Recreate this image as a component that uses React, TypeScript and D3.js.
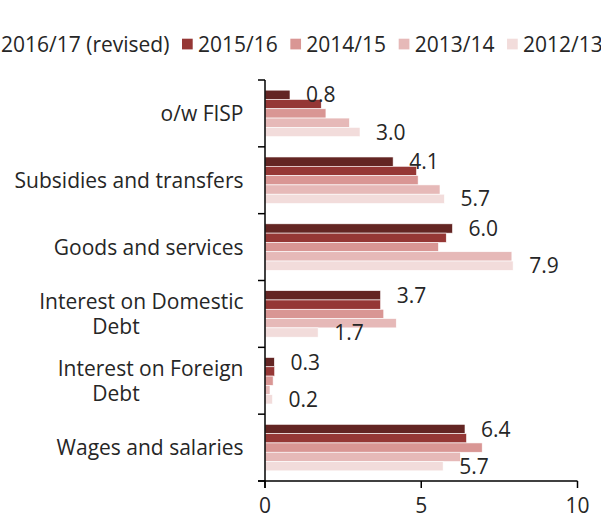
import React from "react";
import * as d3 from "d3";

const categories = [
  "o/w FISP",
  "Subsidies and transfers",
  "Goods and services",
  "Interest on Domestic Debt",
  "Interest on Foreign Debt",
  "Wages and salaries",
];
const categoryLines = [
  ["o/w FISP"],
  ["Subsidies and transfers"],
  ["Goods and services"],
  ["Interest on Domestic", "Debt"],
  ["Interest on Foreign", "Debt"],
  ["Wages and salaries"],
];
const seriesNames = ["2016/17 (revised)", "2015/16", "2014/15", "2013/14", "2012/13"];
const s201617 = [0.8, 4.1, 6.0, 3.7, 0.3, 6.4];
const s201516 = [1.8, 4.85, 5.8, 3.7, 0.31, 6.45];
const s201415 = [1.95, 4.9, 5.55, 3.8, 0.26, 6.95];
const s201314 = [2.7, 5.6, 7.9, 4.2, 0.16, 6.25];
const s201213 = [3.04, 5.74, 7.94, 1.7, 0.24, 5.7];
const seriesValues = [s201617, s201516, s201415, s201314, s201213];
const labelledSeries = [0, 4];
const xTicks = [0, 5, 10];
const colors = ["#632523", "#953735", "#D99694", "#E6B9B8", "#F2DCDB"];

const W = 601;
const H = 517;
const FONT = "'Open Sans', sans-serif";
const FS = 21;
const TXT = "#262626";

function measure(text: string): number {
  if (typeof document === "undefined") return text.length * FS * 0.55;
  const c = document.createElement("canvas");
  const ctx = c.getContext("2d");
  if (!ctx) return text.length * FS * 0.55;
  ctx.font = `${FS}px 'Open Sans'`;
  return ctx.measureText(text).width;
}

export default function App() {
  const x = d3.scaleLinear().domain([0, 10]).range([265, 577.5]);
  const y = d3
    .scaleBand<string>()
    .domain(categories)
    .range([80, 481])
    .paddingInner(0.304)
    .paddingOuter(0.152);
  const step = y.step();
  const bandTop = (c: string) => (y(c) as number) - step * 0.152;
  const inner = d3
    .scaleBand<number>()
    .domain(d3.range(seriesNames.length))
    .range([0, y.bandwidth()]);
  const fmt = d3.format(".1f");
  const yBoundaries = d3.range(categories.length + 1).map((i) => 80 + i * step);

  // legend layout: swatch, 5.3px gap, text, 12.6px gap
  const swatch = 10.7;
  const legendPos: number[] = [];
  let cursor = 1 - 16; // first text starts near x = 1
  seriesNames.forEach((s) => {
    legendPos.push(cursor);
    cursor += 16 + measure(s) + 12.6;
  });

  return (
    <svg
      width={W}
      height={H}
      style={{ position: "absolute", left: 0, top: 0, display: "block" }}
      fontFamily={FONT}
    >
      <rect width={W} height={H} fill="#fff" />
      {/* legend */}
      {seriesNames.map((s, i) => (
        <g key={s} transform={`translate(${legendPos[i]},0)`}>
          <rect x={0} y={38.7} width={swatch} height={swatch} fill={colors[i]} />
          <text x={16} y={51.5} fontSize={FS} fill={TXT}>
            {s}
          </text>
        </g>
      ))}
      {/* bars */}
      {categories.map((c, ci) =>
        seriesValues.map((vals, si) => {
          const by = (y(c) as number) + (inner(si) as number);
          return (
            <rect
              key={`${c}-${si}`}
              x={x(0)}
              y={by}
              width={x(vals[ci]) - x(0)}
              height={inner.bandwidth()}
              fill={colors[si]}
              stroke="#fff"
              strokeWidth={0.6}
            />
          );
        })
      )}
      {/* data labels */}
      {categories.map((c, ci) =>
        labelledSeries.map((si) => {
          const v = seriesValues[si][ci];
          const by = (y(c) as number) + (inner(si) as number) + inner.bandwidth() / 2;
          return (
            <text
              key={`l-${c}-${si}`}
              x={x(v) + 16}
              y={by}
              dy="0.36em"
              fontSize={FS}
              fill={TXT}
            >
              {fmt(v)}
            </text>
          );
        })
      )}
      {/* category labels */}
      {categories.map((c, ci) => {
        const cy = bandTop(c) + step / 2;
        const lines = categoryLines[ci];
        if (lines.length === 1) {
          return (
            <text key={`c-${c}`} x={243.5} y={cy} dy="0.36em" textAnchor="end" fontSize={FS} fill={TXT}>
              {lines[0]}
            </text>
          );
        }
        return (
          <g key={`c-${c}`}>
            <text x={243.5} y={cy - 12.5} dy="0.36em" textAnchor="end" fontSize={FS} fill={TXT}>
              {lines[0]}
            </text>
            <text x={116} y={cy + 12.5} dy="0.36em" textAnchor="middle" fontSize={FS} fill={TXT}>
              {lines[1]}
            </text>
          </g>
        );
      })}
      {/* y axis */}
      <line x1={x(0)} x2={x(0)} y1={80} y2={488} stroke="#000" strokeWidth={1.5} />
      {yBoundaries.map((b, i) => (
        <line key={`yt-${i}`} x1={258} x2={x(0)} y1={b} y2={b} stroke="#000" strokeWidth={1.5} />
      ))}
      {/* x axis */}
      <line x1={258} x2={x(10)} y1={481} y2={481} stroke="#000" strokeWidth={1.5} />
      {xTicks.map((t) => (
        <g key={`xt-${t}`}>
          <line x1={x(t)} x2={x(t)} y1={481} y2={488} stroke="#000" strokeWidth={1.5} />
          <text x={x(t)} y={513} textAnchor="middle" fontSize={FS} fill={TXT}>
            {t}
          </text>
        </g>
      ))}
    </svg>
  );
}
